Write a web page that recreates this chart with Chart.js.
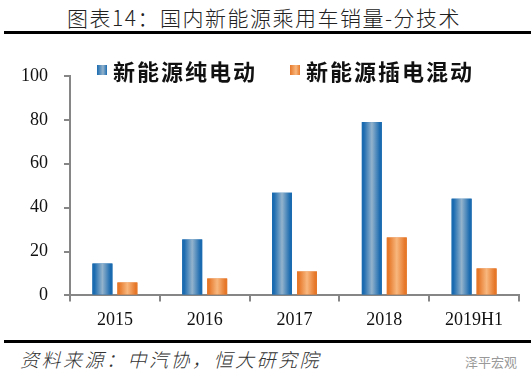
<!DOCTYPE html>
<html>
<head>
<meta charset="utf-8">
<script src="https://cdn.jsdelivr.net/npm/chart.js@4.4.0/dist/chart.umd.min.js"></script>
<style>
  body { margin: 0; width: 532px; height: 383px; background: #fff; position: relative; overflow: hidden;
         font-family: "Noto Sans CJK SC", sans-serif; }
  #title { position: absolute; left: 67px; top: 2px; font-size: 21px; font-weight: 300; letter-spacing: 1.5px; color: #222; white-space: nowrap; }
  .rule { position: absolute; left: 4px; width: 527px; height: 3px; background: #000; }
  #chart-wrap { position: absolute; left: 0; top: 40px; width: 532px; height: 300px; }
  #legend { position: absolute; top: 57px; left: 0; width: 532px; height: 26px; }
  .item { position: absolute; top: 0; display: flex; align-items: center; height: 26px; }
  .box { width: 10px; height: 10px; margin-right: 6px; }
  .item span { font-size: 22px; font-weight: bold; letter-spacing: 2px; color: #111; white-space: nowrap; }
  #source { position: absolute; left: 20px; top: 345px; font-size: 19px; font-weight: 300; font-style: italic; letter-spacing: 2.5px; color: #333; white-space: nowrap; }
  #mark { position: absolute; left: 465px; top: 352px; font-size: 13px; color: #999; white-space: nowrap; }
</style>
</head>
<body>
<div id="title">图表14：国内新能源乘用车销量-分技术</div>
<div class="rule" style="top:31px"></div>
<div id="chart-wrap"><canvas id="salesChart"></canvas></div>
<div id="legend"></div>
<div class="rule" style="top:340px"></div>
<div id="source">资料来源：中汽协，恒大研究院</div>
<div id="mark">泽平宏观</div>

<script>
// 数据（万辆）
const years = ["2015", "2016", "2017", "2018", "2019H1"];
const seriesNames = ["新能源纯电动", "新能源插电混动"];
const bevSales = [14.5, 25.5, 46.8, 79.0, 44.1];
const phevSales = [5.9, 7.7, 10.9, 26.4, 12.3];
const yTicks = [0, 20, 40, 60, 80, 100];

// cores: borda escura, centro claro
const blueEdge = "#1b6bb0", blueMid = "#94b3cc";
const orangeEdge = "#e6782a", orangeMid = "#f8b77e";

// legenda em HTML
const legendPos = [97, 290];
const legendEdges = [[blueEdge, blueMid], [orangeEdge, orangeMid]];
const legend = document.getElementById("legend");
seriesNames.forEach((name, i) => {
  const item = document.createElement("div");
  item.className = "item";
  item.style.left = legendPos[i] + "px";
  const [edge, mid] = legendEdges[i];
  item.innerHTML = `<div class="box" style="background:linear-gradient(90deg, ${edge}, ${mid} 60%, ${edge})"></div><span>${name}</span>`;
  legend.appendChild(item);
});

// degradê horizontal em cada barra
const barGradient = {
  id: "barGradient",
  afterDatasetsDraw(chart) {
    const ctx = chart.ctx;
    chart.data.datasets.forEach((ds, di) => {
      const meta = chart.getDatasetMeta(di);
      const [edge, mid] = legendEdges[di];
      meta.data.forEach(bar => {
        const left = bar.x - bar.width / 2;
        const g = ctx.createLinearGradient(left, 0, left + bar.width, 0);
        g.addColorStop(0, edge);
        g.addColorStop(0.1, edge);
        g.addColorStop(0.5, mid);
        g.addColorStop(0.9, edge);
        g.addColorStop(1, edge);
        ctx.save();
        ctx.fillStyle = g;
        ctx.fillRect(left, bar.y, bar.width, bar.base - bar.y);
        ctx.restore();
      });
    });
  }
};

const tickFont = { family: "'Liberation Serif', 'Times New Roman', serif", size: 18 };
const axisGray = "#868686";

new Chart(document.getElementById("salesChart"), {
  type: "bar",
  data: {
    labels: years,
    datasets: [
      { label: seriesNames[0], data: bevSales, backgroundColor: blueEdge,
        categoryPercentage: 0.556, barPercentage: 0.8 },
      { label: seriesNames[1], data: phevSales, backgroundColor: orangeEdge,
        categoryPercentage: 0.556, barPercentage: 0.8 }
    ]
  },
  options: {
    responsive: true,
    maintainAspectRatio: false,
    animation: false,
    layout: { padding: { top: 36, right: 13, left: 0, bottom: 1 } },
    plugins: {
      legend: { display: false },
      tooltip: { enabled: false }
    },
    scales: {
      x: {
        grid: { display: true, drawOnChartArea: false, drawTicks: true, tickLength: 6, color: axisGray, lineWidth: 2 },
        border: { display: true, color: axisGray, width: 2 },
        ticks: { color: "#111", font: tickFont, padding: 8 }
      },
      y: {
        min: 0,
        max: 100,
        afterBuildTicks: scale => { scale.ticks = yTicks.map(v => ({ value: v })); },
        afterFit: scale => { scale.width = 70; },
        grid: { display: true, drawOnChartArea: false, drawTicks: true, tickLength: 6, color: axisGray, lineWidth: 2 },
        border: { display: true, color: axisGray, width: 2 },
        ticks: { color: "#111", font: tickFont, padding: 16 }
      }
    }
  },
  plugins: [barGradient]
});
</script>
</body>
</html>
